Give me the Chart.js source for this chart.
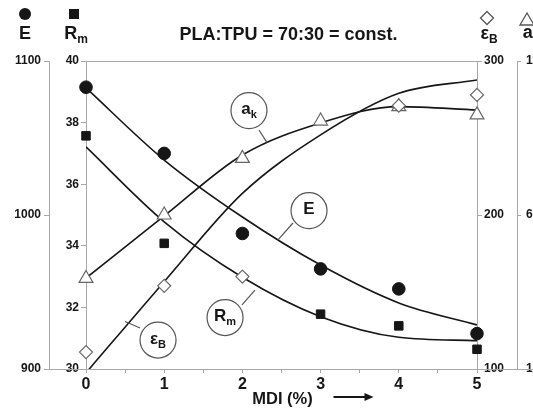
<!DOCTYPE html>
<html><head><meta charset="utf-8">
<script src="https://cdn.jsdelivr.net/npm/chart.js@4"></script>
<style>html,body{margin:0;padding:0;background:#fff;overflow:hidden}</style>
</head><body>
<canvas id="c" width="533" height="416"></canvas>
<script>
// ---- data ----
const mdi = [0, 1, 2, 3, 4, 5];
const E_measured    = [1083, 1040, 988, 965, 952, 923];
const Rm_measured   = [37.57, 34.08, null, 31.78, 31.40, 30.64];
const epsB_measured = [111, 154, 160, null, 271, 278];
const ak_measured   = [39.4, 60.0, 78.4, 90.5, 95.2, 92.5];
const E_fit    = [1082.5, 1035.7, 998.7, 967.5, 942.9, 928.6];
const Rm_fit   = [37.21, 34.78, 32.98, 31.70, 31.03, 30.92];
const epsB_fit = [97.5, 156.7, 214, 252, 279, 287.7];
const ak_fit   = [39.5, 59.7, 79.5, 89.9, 95.2, 94.1];
const title = 'PLA:TPU = 70:30 = const.';
const xTitle = 'MDI (%)';

// callout labels (placed in x / Rm axis units)
const callouts = [
  {t:'a', s:'k', x:2.084, y:38.39, x1:2.212, y1:37.76, x2:2.315, y2:37.35},
  {t:'E', s:'',  x:2.852, y:35.14, x1:2.647, y1:34.74, x2:2.455, y2:34.19},
  {t:'R', s:'m', x:1.778, y:31.67, x1:1.995, y1:32.08, x2:2.161, y2:32.56},
  {t:'ε', s:'B', x:0.921, y:30.94, x1:0.691, y1:31.33, x2:0.499, y2:31.54}
];

const pts = (ys) => mdi.map((x, i) => ({x, y: ys[i]})).filter(p => p.y !== null);
const FONT = '"Liberation Sans", Arial, sans-serif';
const AX = '#a8a8a8';
const INK = '#161616';

function drawSub(ctx, main, sub, cx, cy, size, subSize) {
  ctx.font = `bold ${size}px ${FONT}`;
  const w1 = ctx.measureText(main).width;
  ctx.font = `bold ${subSize}px ${FONT}`;
  const w2 = sub ? ctx.measureText(sub).width : 0;
  const start = cx - (w1 + w2) / 2;
  ctx.textAlign = 'left';
  ctx.textBaseline = 'middle';
  ctx.fillStyle = INK;
  ctx.font = `bold ${size}px ${FONT}`;
  ctx.fillText(main, start, cy);
  if (sub) {
    ctx.font = `bold ${subSize}px ${FONT}`;
    ctx.fillText(sub, start + w1, cy + size * 0.32);
  }
}

const decor = {
  id: 'decor',
  afterDraw(chart) {
    const ctx = chart.ctx;
    const ca = chart.chartArea;
    const sx = chart.scales.x, sR = chart.scales.yRm, sE = chart.scales.yE,
          sB = chart.scales.yEps, sA = chart.scales.yAk;
    ctx.save();
    // frame lines
    ctx.strokeStyle = AX; ctx.lineWidth = 1;
    ctx.beginPath();
    ctx.moveTo(ca.left, ca.top + 0.5); ctx.lineTo(ca.right, ca.top + 0.5);
    ctx.moveTo(sE.right - 5, ca.bottom + 0.5); ctx.lineTo(chart.width, ca.bottom + 0.5);
    ctx.stroke();
    // title
    ctx.fillStyle = INK;
    ctx.font = `bold 18px ${FONT}`;
    ctx.textAlign = 'center'; ctx.textBaseline = 'middle';
    ctx.fillText(title, (ca.left + ca.right) / 2 + 7, 35);
    // axis headers
    const ex = sE.right - 24;
    ctx.beginPath(); ctx.arc(ex, 14, 6, 0, Math.PI * 2); ctx.fillStyle = INK; ctx.fill();
    drawSub(ctx, 'E', '', ex, 34, 18, 12);
    const rx = sR.right - 12;
    ctx.fillStyle = INK; ctx.fillRect(rx - 5, 9, 10, 10);
    drawSub(ctx, 'R', 'm', rx + 2, 34, 18, 12);
    const bx = sB.left + 10;
    ctx.beginPath(); ctx.moveTo(bx, 11.5); ctx.lineTo(bx + 6.5, 18); ctx.lineTo(bx, 24.5); ctx.lineTo(bx - 6.5, 18); ctx.closePath();
    ctx.fillStyle = '#fff'; ctx.fill(); ctx.strokeStyle = '#555'; ctx.lineWidth = 1.3; ctx.stroke();
    drawSub(ctx, 'ε', 'B', bx + 2, 34, 18, 12);
    const ax = sA.left + 10;
    ctx.beginPath(); ctx.moveTo(ax, 13); ctx.lineTo(ax + 7, 25); ctx.lineTo(ax - 7, 25); ctx.closePath();
    ctx.fillStyle = '#fff'; ctx.fill(); ctx.strokeStyle = '#555'; ctx.stroke();
    drawSub(ctx, 'a', 'k', ax + 4, 33, 18, 12);
    // callouts
    for (const c of callouts) {
      const cx = sx.getPixelForValue(c.x), cy = sR.getPixelForValue(c.y);
      ctx.strokeStyle = '#555'; ctx.lineWidth = 1.2;
      ctx.beginPath();
      ctx.moveTo(sx.getPixelForValue(c.x1), sR.getPixelForValue(c.y1));
      ctx.lineTo(sx.getPixelForValue(c.x2), sR.getPixelForValue(c.y2));
      ctx.stroke();
      ctx.beginPath(); ctx.arc(cx, cy, 18, 0, Math.PI * 2);
      ctx.fillStyle = '#fff'; ctx.fill(); ctx.stroke();
      drawSub(ctx, c.t, c.s, cx, cy - 1, 17, 11);
    }
    // x title + arrow
    ctx.fillStyle = INK;
    ctx.font = `bold 16.5px ${FONT}`;
    ctx.textAlign = 'center'; ctx.textBaseline = 'middle';
    const mx = (ca.left + ca.right) / 2 + 1;
    ctx.fillText(xTitle, mx, 399);
    const a0 = mx + 51, a1 = mx + 91, ay = 397;
    ctx.strokeStyle = INK; ctx.lineWidth = 2;
    ctx.beginPath(); ctx.moveTo(a0, ay); ctx.lineTo(a1 - 6, ay); ctx.stroke();
    ctx.beginPath(); ctx.moveTo(a1, ay); ctx.lineTo(a1 - 9, ay - 4); ctx.lineTo(a1 - 9, ay + 4); ctx.closePath(); ctx.fill();
    ctx.restore();
  }
};

function yAxis(position, min, max, step, width, tickLen, pad) {
  return {
    type: 'linear', position, min, max,
    afterFit: (s) => { s.width = width; },
    ticks: { stepSize: step, color: INK, padding: pad, font: { family: FONT, size: 12, weight: 'bold' },
      callback: (v) => String(v) },
    grid: { drawOnChartArea: false, color: AX, tickLength: tickLen },
    border: { display: true, color: AX }
  };
}

const fitStyle = { showLine: true, pointRadius: 0, borderColor: INK, borderWidth: 1.6,
  cubicInterpolationMode: 'monotone', clip: 0, fill: false };

new Chart(document.getElementById('c'), {
  type: 'scatter',
  data: {
    datasets: [
      { label: 'E', data: pts(E_measured), yAxisID: 'yE', pointStyle: 'circle', pointRadius: 6.3,
        backgroundColor: INK, borderColor: INK, clip: false },
      { label: 'Rm', data: pts(Rm_measured), yAxisID: 'yRm', pointStyle: 'rect', pointRadius: 6,
        backgroundColor: INK, borderColor: INK, clip: false },
      { label: 'εB', data: pts(epsB_measured), yAxisID: 'yEps', pointStyle: 'rectRot', pointRadius: 6.5,
        backgroundColor: '#fff', borderColor: '#666', borderWidth: 1.2, clip: false },
      { label: 'ak', data: pts(ak_measured), yAxisID: 'yAk', pointStyle: 'triangle', pointRadius: 8,
        backgroundColor: '#fff', borderColor: '#666', borderWidth: 1.2, clip: false },
      Object.assign({ label: 'E fit', data: pts(E_fit), yAxisID: 'yE' }, fitStyle),
      Object.assign({ label: 'Rm fit', data: pts(Rm_fit), yAxisID: 'yRm' }, fitStyle),
      Object.assign({ label: 'εB fit', data: pts(epsB_fit), yAxisID: 'yEps' }, fitStyle),
      Object.assign({ label: 'ak fit', data: pts(ak_fit), yAxisID: 'yAk' }, fitStyle)
    ]
  },
  options: {
    responsive: false, animation: false, devicePixelRatio: 1,
    layout: { padding: { top: 61, left: 0, right: 0, bottom: 0 } },
    plugins: { legend: { display: false }, title: { display: false }, tooltip: { enabled: false } },
    scales: {
      x: {
        type: 'linear', position: 'bottom', min: 0, max: 5,
        afterFit: (s) => { s.height = 47; },
        ticks: { stepSize: 0.5, autoSkip: false, maxRotation: 0, color: INK, padding: 2,
          font: { family: FONT, size: 16, weight: 'bold' },
          callback: (v) => Number.isInteger(v) ? String(v) : '' },
        grid: { drawOnChartArea: false, color: AX, tickLength: 4 },
        border: { display: true, color: AX }
      },
      yRm: yAxis('left', 30, 40, 2, 37, 5, 2),
      yE: yAxis('left', 900, 1100, 100, 49, 5, 3),
      yEps: yAxis('right', 100, 300, 100, 40, 5, 2),
      yAk: yAxis('right', 10, 110, 50, 16, 4, 5)
    }
  },
  plugins: [decor]
});
</script>
</body></html>
